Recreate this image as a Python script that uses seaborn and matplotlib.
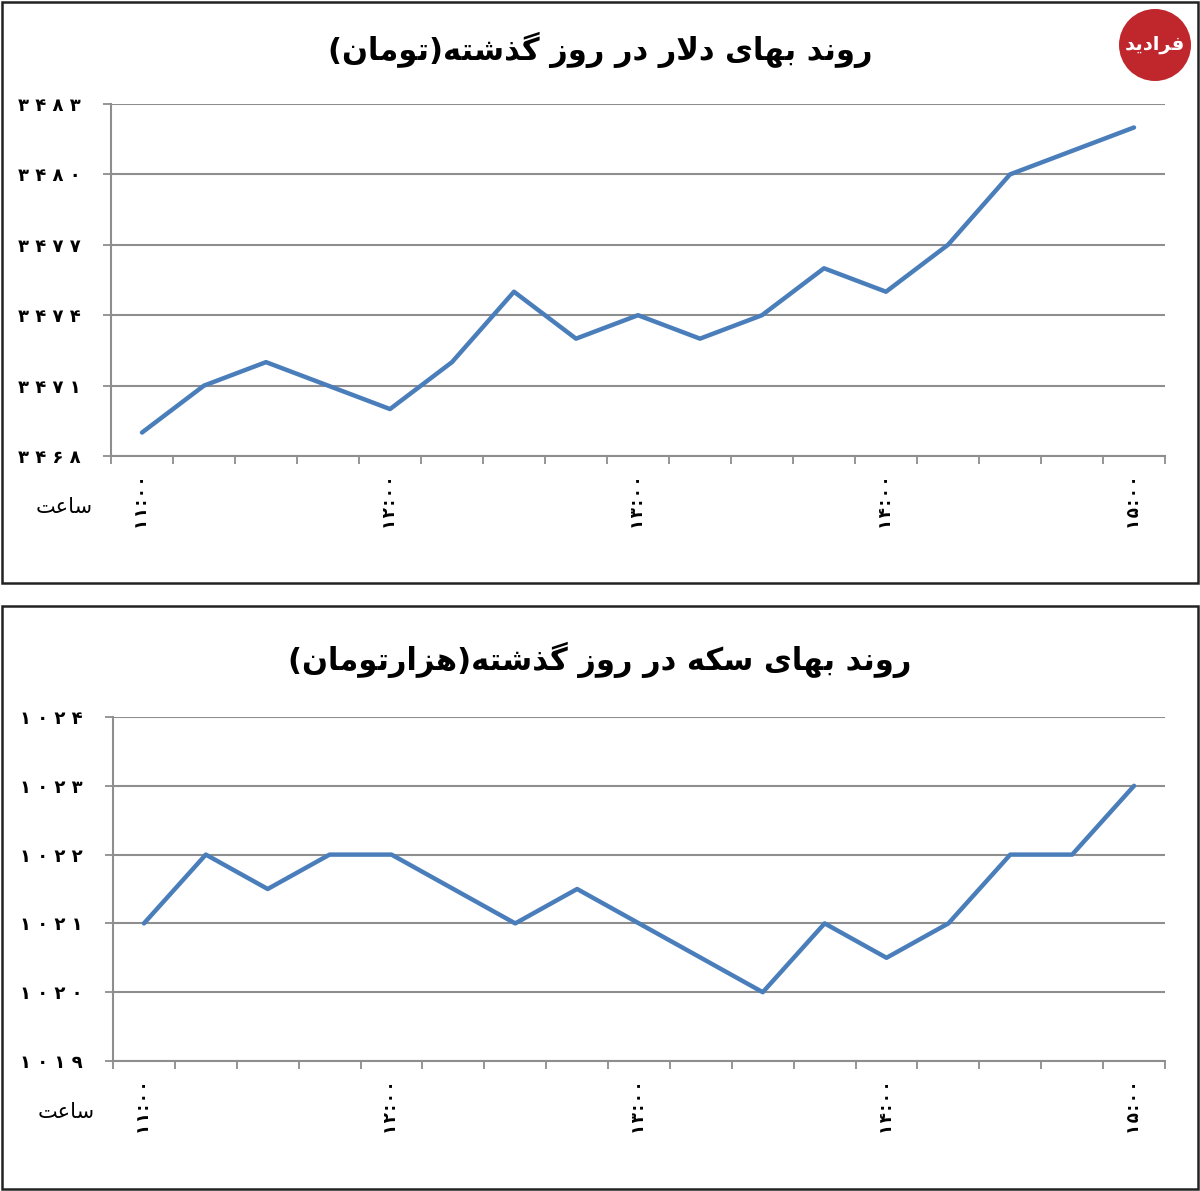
import matplotlib
matplotlib.use("Agg")
import matplotlib.pyplot as plt
import seaborn as sns
import pandas as pd
from matplotlib.patches import Rectangle, Ellipse

# quarter-hour readings from 11:00 to 15:00
times = ["11:00", "11:15", "11:30", "11:45", "12:00", "12:15", "12:30", "12:45",
         "13:00", "13:15", "13:30", "13:45", "14:00", "14:15", "14:30", "14:45", "15:00"]
hour_labels = ["11:00", "12:00", "13:00", "14:00", "15:00"]

dollar_price = [3469, 3471, 3472, 3471, 3470, 3472, 3475, 3473, 3474,
                3473, 3474, 3476, 3475, 3477, 3480, 3481, 3482]
dollar_ticks = [3468, 3471, 3474, 3477, 3480, 3483]

coin_price = [1021, 1022, 1021.5, 1022, 1022, 1021.5, 1021, 1021.5, 1021,
              1020.5, 1020, 1021, 1020.5, 1021, 1022, 1022, 1023]
coin_ticks = [1019, 1020, 1021, 1022, 1023, 1024]

dollar_title = "روند بهای دلار در روز گذشته(تومان)"
coin_title = "روند بهای سکه در روز گذشته(هزارتومان)"
x_name = "ساعت"
logo_text = "فرادید"

# matplotlib has no arabic shaping, so pick presentation forms by hand
FORMS = {
    "ا": ("\ufe8d", "\ufe8e"),
    "د": ("\ufea9", "\ufeaa"),
    "ذ": ("\ufeab", "\ufeac"),
    "ر": ("\ufead", "\ufeae"),
    "ز": ("\ufeaf", "\ufeb0"),
    "و": ("\ufeed", "\ufeee"),
    "\ufefb": ("\ufefb", "\ufefc"),
    "ب": ("\ufe8f", "\ufe90", "\ufe91", "\ufe92"),
    "ت": ("\ufe95", "\ufe96", "\ufe97", "\ufe98"),
    "س": ("\ufeb1", "\ufeb2", "\ufeb3", "\ufeb4"),
    "ش": ("\ufeb5", "\ufeb6", "\ufeb7", "\ufeb8"),
    "ع": ("\ufec9", "\ufeca", "\ufecb", "\ufecc"),
    "ف": ("\ufed1", "\ufed2", "\ufed3", "\ufed4"),
    "ل": ("\ufedd", "\ufede", "\ufedf", "\ufee0"),
    "م": ("\ufee1", "\ufee2", "\ufee3", "\ufee4"),
    "ن": ("\ufee5", "\ufee6", "\ufee7", "\ufee8"),
    "ه": ("\ufee9", "\ufeea", "\ufeeb", "\ufeec"),
    "ک": ("\ufb8e", "\ufb8f", "\ufb90", "\ufb91"),
    "گ": ("\ufb92", "\ufb93", "\ufb94", "\ufb95"),
    "ی": ("\ufbfc", "\ufbfd", "\ufbfe", "\ufbff"),
}


def fa(text):
    text = text.replace("لا", "\ufefb")
    out = []
    for i, ch in enumerate(text):
        f = FORMS.get(ch)
        if f is None:
            out.append(ch)
            continue
        prev = text[i - 1] if i > 0 else ""
        nxt = text[i + 1] if i + 1 < len(text) else ""
        join_prev = prev in FORMS and len(FORMS[prev]) == 4
        join_next = len(f) == 4 and nxt in FORMS
        if join_prev and join_next:
            out.append(f[3])
        elif join_prev:
            out.append(f[1])
        elif join_next:
            out.append(f[2])
        else:
            out.append(f[0])
    vis = "".join(reversed(out))
    return vis.translate(str.maketrans("()", ")("))


def fa_digits(s, sep=" "):
    # persian digits, spread out like the original excel labels
    return sep.join(s.translate(str.maketrans("0123456789", "۰۱۲۳۴۵۶۷۸۹")))


sns.set_style("ticks")
plt.rcParams["font.family"] = ["DejaVu Sans"]
plt.rcParams["text.color"] = "black"
plt.rcParams["xtick.labelcolor"] = "black"
plt.rcParams["ytick.labelcolor"] = "black"

W, H = 1200, 1191
fig = plt.figure(figsize=(12, 11.91), dpi=100)

line_color = "#4A7EBB"
grid_color = "#8E8E8E"


def draw_panel(ax, values, yticks):
    df = pd.DataFrame({"slot": range(len(times)), "price": values})
    sns.lineplot(data=df, x="slot", y="price", ax=ax, color=line_color, linewidth=3.2)
    ax.set_xlim(-0.5, len(times) - 0.5)
    ax.set_ylim(yticks[0], yticks[-1])
    ax.set_yticks(yticks)
    ax.set_yticklabels([fa_digits(str(v)) for v in yticks], fontweight="bold", fontsize=13)
    ax.set_xticks([i - 0.5 for i in range(len(times) + 1)])
    ax.set_xticklabels([])
    pos = [times.index(h) for h in hour_labels]
    ax.set_xticks(pos, minor=True)
    ax.set_xticklabels([fa_digits(h, "\u200a") for h in hour_labels], minor=True,
                       rotation=90, fontweight="bold", fontsize=12)
    ax.tick_params(axis="x", which="minor", length=0, pad=14)
    ax.tick_params(axis="x", which="major", length=6, width=1.3, color=grid_color)
    ax.tick_params(axis="y", length=6, width=1.3, color=grid_color, pad=16)
    ax.grid(axis="y", color=grid_color, linewidth=1.5)
    ax.set_axisbelow(True)
    for side in ["top", "right"]:
        ax.spines[side].set_visible(False)
    for side in ["left", "bottom"]:
        ax.spines[side].set_color(grid_color)
        ax.spines[side].set_linewidth(1.5)
    ax.set_xlabel("")
    ax.set_ylabel("")


ax1 = fig.add_axes([111 / W, 1 - 456 / H, (1165 - 111) / W, (456 - 104) / H])
draw_panel(ax1, dollar_price, dollar_ticks)
ax2 = fig.add_axes([113 / W, 1 - 1061 / H, (1165 - 113) / W, (1061 - 717) / H])
draw_panel(ax2, coin_price, coin_ticks)

fig.text(0.5, 1 - 50 / H, fa(dollar_title), ha="center", va="center",
         fontsize=22, fontweight="bold")
fig.text(0.5, 1 - 660 / H, fa(coin_title), ha="center", va="center",
         fontsize=22, fontweight="bold")
fig.text(64 / W, 1 - 507 / H, fa(x_name), ha="center", va="center", fontsize=15)
fig.text(66 / W, 1 - 1112 / H, fa(x_name), ha="center", va="center", fontsize=15)

# panel frames
fig.add_artist(Rectangle((2 / W, 1 - 583 / H), 1196 / W, 581 / H, transform=fig.transFigure,
                         fill=False, edgecolor="#222222", linewidth=1.8))
fig.add_artist(Rectangle((2 / W, 1 - 1189 / H), 1196 / W, 583 / H, transform=fig.transFigure,
                         fill=False, edgecolor="#222222", linewidth=1.8))

# logo
fig.add_artist(Ellipse((1155 / W, 1 - 45 / H), 72 / W, 72 / H, transform=fig.transFigure,
                       facecolor="#C0272D", edgecolor="none"))
fig.text(1155 / W, 1 - 45 / H, fa(logo_text), ha="center", va="center",
         fontsize=14, fontweight="bold", color="white")

fig.savefig("out.png", dpi=100)
